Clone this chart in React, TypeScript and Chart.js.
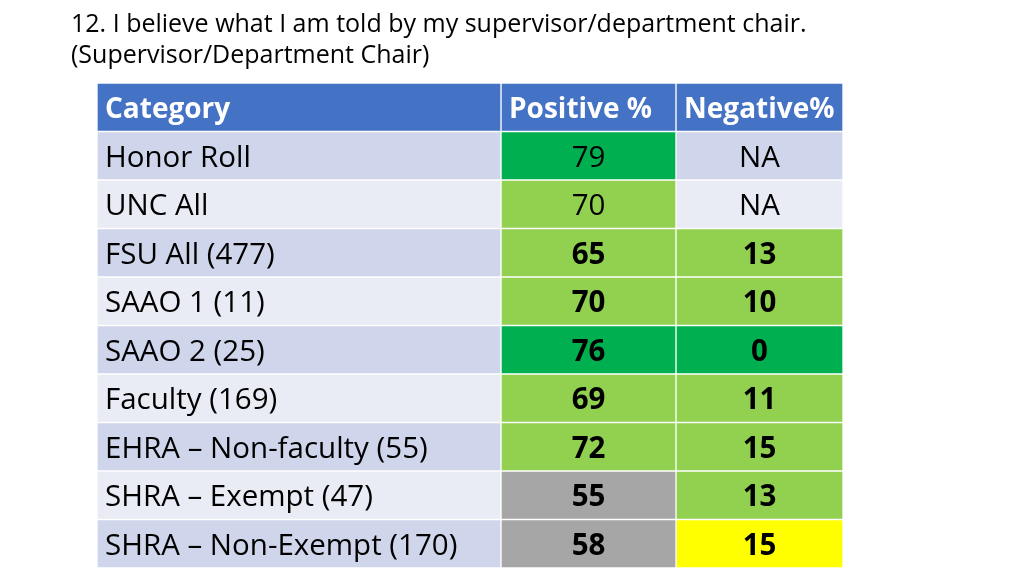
import React, { useEffect, useRef } from "react";
import { Chart, registerables } from "chart.js";

Chart.register(...registerables);

// ---- data ----
const titleLines = [
  "12. I believe what I am told by my supervisor/department chair.",
  "(Supervisor/Department Chair)",
];
const headers = ["Category", "Positive %", "Negative%"];
const categories = [
  "Honor Roll",
  "UNC All",
  "FSU All (477)",
  "SAAO 1 (11)",
  "SAAO 2 (25)",
  "Faculty (169)",
  "EHRA – Non-faculty (55)",
  "SHRA – Exempt (47)",
  "SHRA – Non-Exempt (170)",
];
const positive: (number | null)[] = [79, 70, 65, 70, 76, 69, 72, 55, 58];
const negative: (number | null)[] = [null, null, 13, 10, 0, 11, 15, 13, 15];
const boldRows = [false, false, true, true, true, true, true, true, true];

// ---- styles / layout ----
const DARK_GREEN = "#00B050";
const LIGHT_GREEN = "#92D050";
const GRAY = "#A6A6A6";
const YELLOW = "#FFFF00";
const HEADER_BG = "#4472C4";
const BAND_A = "#CFD5EA";
const BAND_B = "#E9EBF5";
const positiveColors = [DARK_GREEN, LIGHT_GREEN, LIGHT_GREEN, LIGHT_GREEN, DARK_GREEN, LIGHT_GREEN, LIGHT_GREEN, GRAY, GRAY];
const negativeColors = [null, null, LIGHT_GREEN, LIGHT_GREEN, DARK_GREEN, LIGHT_GREEN, LIGHT_GREEN, LIGHT_GREEN, YELLOW];
const COL_WIDTHS = [404, 175, 167];
const FONT = '"Open Sans", "DejaVu Sans", sans-serif';

export default function App() {
  const ref = useRef<HTMLCanvasElement | null>(null);

  useEffect(() => {
    let chart: Chart | null = null;
    let cancelled = false;
    const canvas = ref.current;
    if (!canvas) return;

    const build = () => {
      if (cancelled) return;
      const rowLabels = [headers[0], ...categories];
      const band = (i: number) => (i % 2 === 0 ? BAND_A : BAND_B);
      const edges = [0];
      COL_WIDTHS.forEach((w) => edges.push(edges[edges.length - 1] + w));

      const catColors = [HEADER_BG, ...categories.map((_, i) => band(i))];
      const posColors = [HEADER_BG, ...positiveColors];
      const negColors = [HEADER_BG, ...negativeColors.map((c, i) => c || band(i))];
      const colColors = [catColors, posColors, negColors];

      const datasets = COL_WIDTHS.map((_, c) => ({
        label: headers[c],
        data: rowLabels.map(() => [edges[c], edges[c + 1]] as [number, number]),
        backgroundColor: colColors[c],
        borderColor: "#FFFFFF",
        borderWidth: 1,
        borderSkipped: false as const,
        grouped: false,
        barPercentage: 1,
        categoryPercentage: 1,
      }));

      const cellText = (c: number, r: number): string => {
        if (r === 0) return headers[c];
        const i = r - 1;
        if (c === 0) return categories[i];
        const v = c === 1 ? positive[i] : negative[i];
        return v === null ? "NA" : String(v);
      };

      const textPlugin = {
        id: "tableText",
        afterDatasetsDraw(ch: Chart) {
          const ctx = ch.ctx;
          ctx.save();
          // title
          ctx.fillStyle = "#000000";
          ctx.textAlign = "left";
          ctx.textBaseline = "alphabetic";
          ctx.font = `25px ${FONT}`;
          ctx.fillText(titleLines[0], 71, 32, 742);
          ctx.fillText(titleLines[1], 71, 63);

          for (let c = 0; c < COL_WIDTHS.length; c++) {
            const meta = ch.getDatasetMeta(c);
            meta.data.forEach((el: any, r: number) => {
              const txt = cellText(c, r);
              const isHeader = r === 0;
              const bold = isHeader || (c > 0 && boldRows[r - 1]);
              ctx.font = isHeader
                ? `bold 28px ${FONT}`
                : `${bold ? "bold " : ""}29.5px ${FONT}`;
              ctx.fillStyle = isHeader ? "#FFFFFF" : "#000000";
              const left = Math.min(el.x, el.base);
              const right = Math.max(el.x, el.base);
              const y = el.y + 11;
              if (c === 0 || isHeader) {
                ctx.textAlign = "left";
                ctx.fillText(txt, left + 8, y);
              } else {
                ctx.textAlign = "center";
                ctx.fillText(txt, (left + right) / 2, y);
              }
            });
          }
          ctx.restore();
        },
      };

      chart = new Chart(canvas, {
        type: "bar",
        data: { labels: rowLabels, datasets: datasets as any },
        options: {
          indexAxis: "y",
          animation: false,
          responsive: false,
          maintainAspectRatio: false,
          layout: { padding: { left: 97, right: 181, top: 83, bottom: 8 } },
          plugins: {
            legend: { display: false },
            tooltip: { enabled: false },
            title: { display: false },
          },
          scales: {
            x: { type: "linear", min: 0, max: edges[edges.length - 1], display: false },
            y: { type: "category", display: false },
          },
        },
        plugins: [textPlugin],
      });
    };

    if ((document as any).fonts && (document as any).fonts.load) {
      Promise.all([
        (document as any).fonts.load(`29px "Open Sans"`),
        (document as any).fonts.load(`bold 29px "Open Sans"`),
      ]).then(build, build);
    } else {
      build();
    }

    return () => {
      cancelled = true;
      if (chart) chart.destroy();
    };
  }, []);

  return (
    <div style={{ position: "absolute", left: 0, top: 0, width: 1024, height: 576, background: "#FFFFFF" }}>
      <canvas ref={ref} width={1024} height={576} style={{ display: "block", width: 1024, height: 576 }} />
    </div>
  );
}
